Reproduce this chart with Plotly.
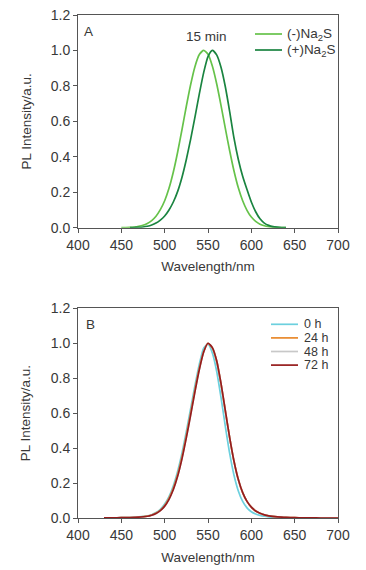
import plotly.graph_objects as go

# ---------- Panel A data ----------
wl_a = [450, 455, 460, 465, 470, 475, 480, 485, 490, 495, 500, 505, 510, 515, 520, 525,
        530, 535, 540, 545, 550, 555, 560, 565, 570, 575, 580, 585, 590, 595, 600, 605,
        610, 615, 620, 625, 630, 635, 640]
minus_na2s = [0.000, 0.001, 0.002, 0.004, 0.008, 0.014, 0.024, 0.040, 0.065, 0.102, 0.152, 0.222, 0.314,
              0.427, 0.554, 0.685, 0.808, 0.910, 0.977, 1.000, 0.978, 0.912, 0.812, 0.690, 0.560,
              0.434, 0.320, 0.225, 0.152, 0.098, 0.060, 0.036, 0.020, 0.011, 0.006, 0.003, 0.001,
              0.000, 0.000]
plus_na2s = [None, None, 0.000, 0.001, 0.002, 0.004, 0.008, 0.015, 0.026, 0.043, 0.066, 0.100, 0.145,
             0.205, 0.285, 0.385, 0.500, 0.625, 0.755, 0.875, 0.965, 1.000, 0.975, 0.905, 0.795,
             0.655, 0.505, 0.385, 0.290, 0.215, 0.145, 0.090, 0.050, 0.026, 0.013, 0.006, 0.003,
             0.001, 0.000]

# ---------- Panel B data ----------
wl_b = [430, 440, 450, 460, 470, 480, 485, 490, 495, 500, 505, 510, 515, 520, 525, 530, 535,
        540, 545, 550, 555, 560, 565, 570, 575, 580, 585, 590, 595, 600, 605, 610, 615, 620,
        630, 640, 650, 660, 670, 680, 690, 700]
h0 = [0.001, 0.001, 0.002, 0.003, 0.006, 0.012, 0.019, 0.031, 0.050, 0.080, 0.123, 0.185, 0.268,
      0.372, 0.495, 0.627, 0.760, 0.880, 0.972, 0.995, 0.945, 0.840, 0.690, 0.525, 0.370, 0.245,
      0.155, 0.095, 0.058, 0.036, 0.023, 0.015, 0.010, 0.007, 0.004, 0.002, 0.001, 0.000, 0.000,
      0.000, 0.000, 0.000]
h24 = [0.001, 0.001, 0.002, 0.003, 0.005, 0.011, 0.017, 0.028, 0.045, 0.072, 0.113, 0.171, 0.250,
       0.352, 0.473, 0.603, 0.737, 0.858, 0.953, 1.000, 0.973, 0.897, 0.767, 0.612, 0.458, 0.324,
       0.219, 0.145, 0.095, 0.062, 0.040, 0.027, 0.018, 0.012, 0.006, 0.004, 0.002, 0.001, 0.001,
       0.000, 0.000, 0.000]
h48 = [0.001, 0.001, 0.002, 0.003, 0.005, 0.010, 0.016, 0.026, 0.042, 0.068, 0.107, 0.163, 0.240,
       0.340, 0.460, 0.590, 0.725, 0.850, 0.950, 1.000, 0.975, 0.900, 0.770, 0.615, 0.460, 0.325,
       0.220, 0.145, 0.095, 0.062, 0.040, 0.027, 0.018, 0.012, 0.006, 0.004, 0.002, 0.001, 0.001,
       0.000, 0.000, 0.000]
h72 = [0.001, 0.001, 0.002, 0.003, 0.005, 0.010, 0.016, 0.026, 0.042, 0.068, 0.107, 0.163, 0.240,
       0.340, 0.460, 0.590, 0.725, 0.850, 0.950, 1.000, 0.975, 0.900, 0.770, 0.615, 0.460, 0.325,
       0.220, 0.145, 0.095, 0.062, 0.040, 0.027, 0.018, 0.012, 0.006, 0.004, 0.002, 0.001, 0.001,
       0.000, 0.000, 0.000]

names_a = ["(-)Na<sub>2</sub>S", "(+)Na<sub>2</sub>S"]
colors_a = ["#66c24a", "#1a8440"]
names_b = ["0 h", "24 h", "48 h", "72 h"]
colors_b = ["#6cd0de", "#e8892c", "#c8c8c8", "#961c1c"]

x_ticks = [400, 450, 500, 550, 600, 650, 700]
y_ticks = [0.0, 0.2, 0.4, 0.6, 0.8, 1.0, 1.2]
y_tick_labels = ["0.0", "0.2", "0.4", "0.6", "0.8", "1.0", "1.2"]

FONT = "Liberation Sans, Arial, sans-serif"
TXT = "#383838"
AX = "#555555"

W, H = 366, 570
ML, MR, MT, MB = 78, 28, 15, 52
PW, PH = W - ML - MR, H - MT - MB


def px_x(px):
    return (px - ML) / PW


def px_y(py):
    return (H - MB - py) / PH


fig = go.Figure()
lw = 1.7
for nm, vals, col in zip(names_a, [minus_na2s, plus_na2s], colors_a):
    fig.add_trace(go.Scatter(x=wl_a, y=vals, mode="lines", name=nm, showlegend=False,
                             line=dict(color=col, width=lw, shape="spline", smoothing=0.6),
                             xaxis="x", yaxis="y"))
for nm, vals, col in zip(names_b, [h0, h24, h48, h72], colors_b):
    fig.add_trace(go.Scatter(x=wl_b, y=vals, mode="lines", name=nm, showlegend=False,
                             line=dict(color=col, width=lw, shape="spline", smoothing=0.6),
                             xaxis="x2", yaxis="y2"))

axis_common = dict(showline=True, linecolor=AX, linewidth=1, mirror=True, ticks="outside",
                   ticklen=4, tickcolor=AX, showgrid=False, zeroline=False, automargin=False,
                   ticklabeloverflow="allow",
                   tickfont=dict(family=FONT, size=14, color=TXT))
xa = dict(axis_common, range=[400, 700], tickvals=x_ticks, domain=[0, 1],
          title=dict(text="Wavelength/nm", font=dict(family=FONT, size=13.5, color=TXT), standoff=10))
ya = dict(axis_common, range=[0, 1.2], tickvals=y_ticks, ticktext=y_tick_labels,
          title=dict(text="PL Intensity/a.u.", font=dict(family=FONT, size=13.5, color=TXT), standoff=16))

shapes = []
annotations = [
    dict(x=548, y=1.08, xref="x", yref="y", text="15 min", showarrow=False,
         font=dict(family=FONT, size=13.5, color=TXT)),
    dict(x=412, y=1.105, xref="x", yref="y", text="A", showarrow=False,
         font=dict(family=FONT, size=13.5, color=TXT)),
    dict(x=414, y=1.109, xref="x2", yref="y2", text="B", showarrow=False,
         font=dict(family=FONT, size=13.5, color=TXT)),
]

# manual legends (legend swatches + labels)
legend_specs = [
    (names_a, colors_a, 255, 282, 285, 34.0, 16.0, 13.5),
    (names_b, colors_b, 271, 298, 302, 324.3, 13.6, 12.5),
]
for names, cols, x0, x1, xt, y0, dy, fs in legend_specs:
    for i, (nm, col) in enumerate(zip(names, cols)):
        yy = px_y(y0 + i * dy)
        shapes.append(dict(type="line", xref="paper", yref="paper", x0=px_x(x0), x1=px_x(x1),
                           y0=yy, y1=yy, line=dict(color=col, width=lw)))
        annotations.append(dict(x=px_x(xt), y=yy, xref="paper", yref="paper", text=nm,
                                showarrow=False, xanchor="left", yanchor="middle",
                                font=dict(family=FONT, size=fs, color=TXT)))

fig.update_layout(
    width=W, height=H,
    margin=dict(l=ML, r=MR, t=MT, b=MB),
    paper_bgcolor="white", plot_bgcolor="white",
    font=dict(family=FONT, size=13, color=TXT),
    xaxis=dict(xa, anchor="y"),
    yaxis=dict(ya, domain=[px_y(227.7), 1.0], anchor="x"),
    xaxis2=dict(xa, anchor="y2"),
    yaxis2=dict(ya, domain=[0.0, px_y(308.3)], anchor="x2"),
    showlegend=False,
    shapes=shapes,
    annotations=annotations,
)

fig.write_html("out.html", config={"displayModeBar": False},
               post_script="document.body.style.margin='0';document.body.style.overflow='hidden';")
